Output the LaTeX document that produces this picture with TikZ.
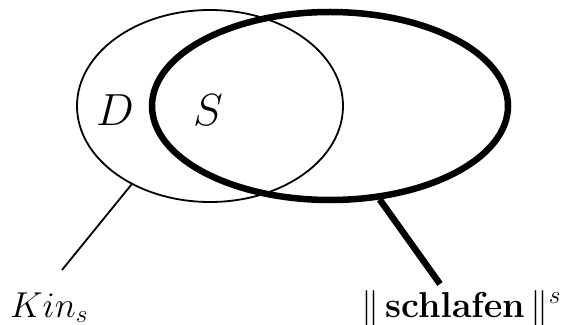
\documentclass[tikz,border=0pt]{standalone}
\usepackage{fix-cm}
\usetikzlibrary{shapes.geometric}
\begin{document}
\begin{tikzpicture}[x=1pt,y=1pt,
  setthin/.style={draw, ellipse, line width=1.8pt, inner sep=0pt},
  setthick/.style={draw, ellipse, line width=6.5pt, inner sep=0pt},
  bigtext/.style={inner sep=0pt, font=\fontsize{36}{44}\selectfont}]
\useasboundingbox (0,0) rectangle (572,324);
% the two sets
\node[setthin, minimum width=266pt, minimum height=192pt] (dset) at (210,218) {};
\node[setthick, minimum width=356pt, minimum height=188pt] (sset) at (330,218) {};
% region letters
\node[bigtext, font=\fontsize{45}{54}\selectfont] (dlab) at (115,214) {$D$};
\node[bigtext, font=\fontsize{45}{54}\selectfont] (slab) at (208,214) {$S$};
% labels under the sets
\node[bigtext, anchor=base west] (kin) at (10,7) {$Kin_s$};
\node[bigtext, anchor=base west] (schl) at (361,7) {$\|\,\mathbf{schlafen}\,\|^s$};
% leader lines
\coordinate (kinend) at (62,54);
\coordinate (schlend) at (440,40);
\draw[line width=1.8pt] (dset.225) -- (kinend);
\draw[line width=6.5pt] (sset.298) -- (schlend);
\end{tikzpicture}
\end{document}
